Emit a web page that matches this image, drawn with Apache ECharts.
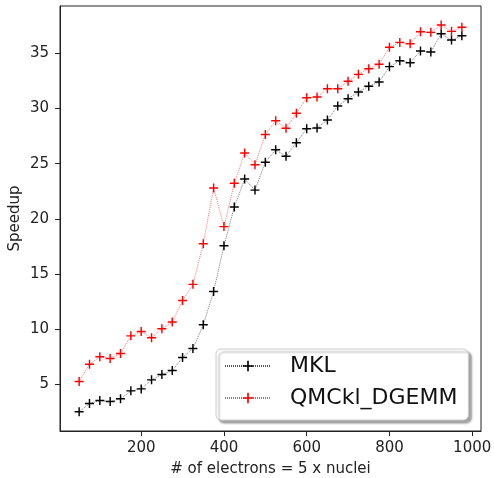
<!DOCTYPE html>
<html>
<head>
<meta charset="utf-8">
<script src="https://cdn.jsdelivr.net/npm/echarts@6/dist/echarts.min.js"></script>
<style>
html,body{margin:0;padding:0;background:#fff;}
#chart{width:494px;height:478px;}
</style>
</head>
<body>
<div id="chart"></div>
<script>
const electrons = [50,75,100,125,150,175,200,225,250,275,300,325,350,375,400,425,450,475,500,525,550,575,600,625,650,675,700,725,750,775,800,825,850,875,900,925,950,975];
const mklSpeedup = [2.49,3.24,3.51,3.42,3.67,4.39,4.57,5.39,5.87,6.23,7.41,8.23,10.38,13.4,17.55,21.06,23.6,22.6,25.13,26.26,25.67,26.9,28.17,28.24,28.96,30.23,30.89,31.5,32.02,32.41,33.8,34.34,34.16,35.22,35.13,36.79,36.21,36.6];
const qmcklSpeedup = [5.24,6.81,7.48,7.33,7.78,9.38,9.77,9.2,10.02,10.63,12.59,14.05,17.73,22.8,19.29,23.22,25.97,24.9,27.65,28.9,28.21,29.57,30.98,31.05,31.8,31.8,32.47,33.1,33.61,34.01,35.55,36.0,35.88,36.97,36.91,37.57,37.0,37.37];
const xTicks = [200,400,600,800,1000];
const yTicks = [5,10,15,20,25,30,35];
const seriesNames = ['MKL','QMCkl_DGEMM'];

const plus = 'path://M4.2,0H5.8V4.2H10V5.8H5.8V10H4.2V5.8H0V4.2H4.2Z';
const font = 'DejaVu Sans';
const chart = echarts.init(document.getElementById('chart'), null, {renderer:'canvas'});
function pairs(ys){ return electrons.map((x,i)=>[x, ys[i]]); }
chart.setOption({
  animation:false,
  backgroundColor:'#fff',
  grid:{left:60, right:13, top:6, bottom:47, show:true, borderColor:'#222', borderWidth:1, outerBoundsMode:'none'},
  xAxis:{
    type:'value', min:3.75, max:1021.25,
    name:'# of electrons = 5 x nuclei', nameLocation:'middle', nameGap:31,
    nameTextStyle:{fontFamily:font, fontSize:15, color:'#222'},
    axisLine:{show:true, onZero:false, lineStyle:{color:'#222', width:1}},
    axisTick:{show:true, length:5, lineStyle:{color:'#222'}, customValues:xTicks},
    axisLabel:{fontFamily:font, fontSize:15, color:'#222', margin:10, customValues:xTicks, formatter:v=>String(v)},
    splitLine:{show:false}
  },
  yAxis:{
    type:'value', min:0.75, max:39.3,
    name:'Speedup', nameLocation:'middle', nameGap:37, nameMoveOverlap:false,
    nameTextStyle:{fontFamily:font, fontSize:15, color:'#222'},
    axisLine:{show:true, onZero:false, lineStyle:{color:'#222', width:1}},
    axisTick:{show:true, length:5, lineStyle:{color:'#222'}, customValues:yTicks},
    axisLabel:{fontFamily:font, fontSize:15, color:'#222', margin:11, customValues:yTicks, formatter:v=>String(v)},
    splitLine:{show:false}
  },
  legend:{
    orient:'vertical', left:216, top:349,
    padding:[5,11,10,8],
    itemWidth:46, itemHeight:13, itemGap:8,
    backgroundColor:'#fff', borderColor:'#ccc', borderWidth:1, borderRadius:5,
    shadowColor:'rgba(0,0,0,0.35)', shadowOffsetX:3, shadowOffsetY:3, shadowBlur:2,
    textStyle:{fontFamily:font, fontSize:22, color:'#111', lineHeight:24, padding:[0,0,0,14]},
    data:seriesNames
  },
  series:[
    {name:seriesNames[0], type:'line', data:pairs(mklSpeedup),
     symbol:plus, symbolSize:9, color:'#000',
     itemStyle:{color:'#000'},
     lineStyle:{color:'#555', width:0.8, type:[1,1]}},
    {name:seriesNames[1], type:'line', data:pairs(qmcklSpeedup),
     symbol:plus, symbolSize:9, color:'#ff0000',
     itemStyle:{color:'#ff0000'},
     lineStyle:{color:'#ff5050', width:0.8, type:[1,1]}}
  ]
});
</script>
</body>
</html>
